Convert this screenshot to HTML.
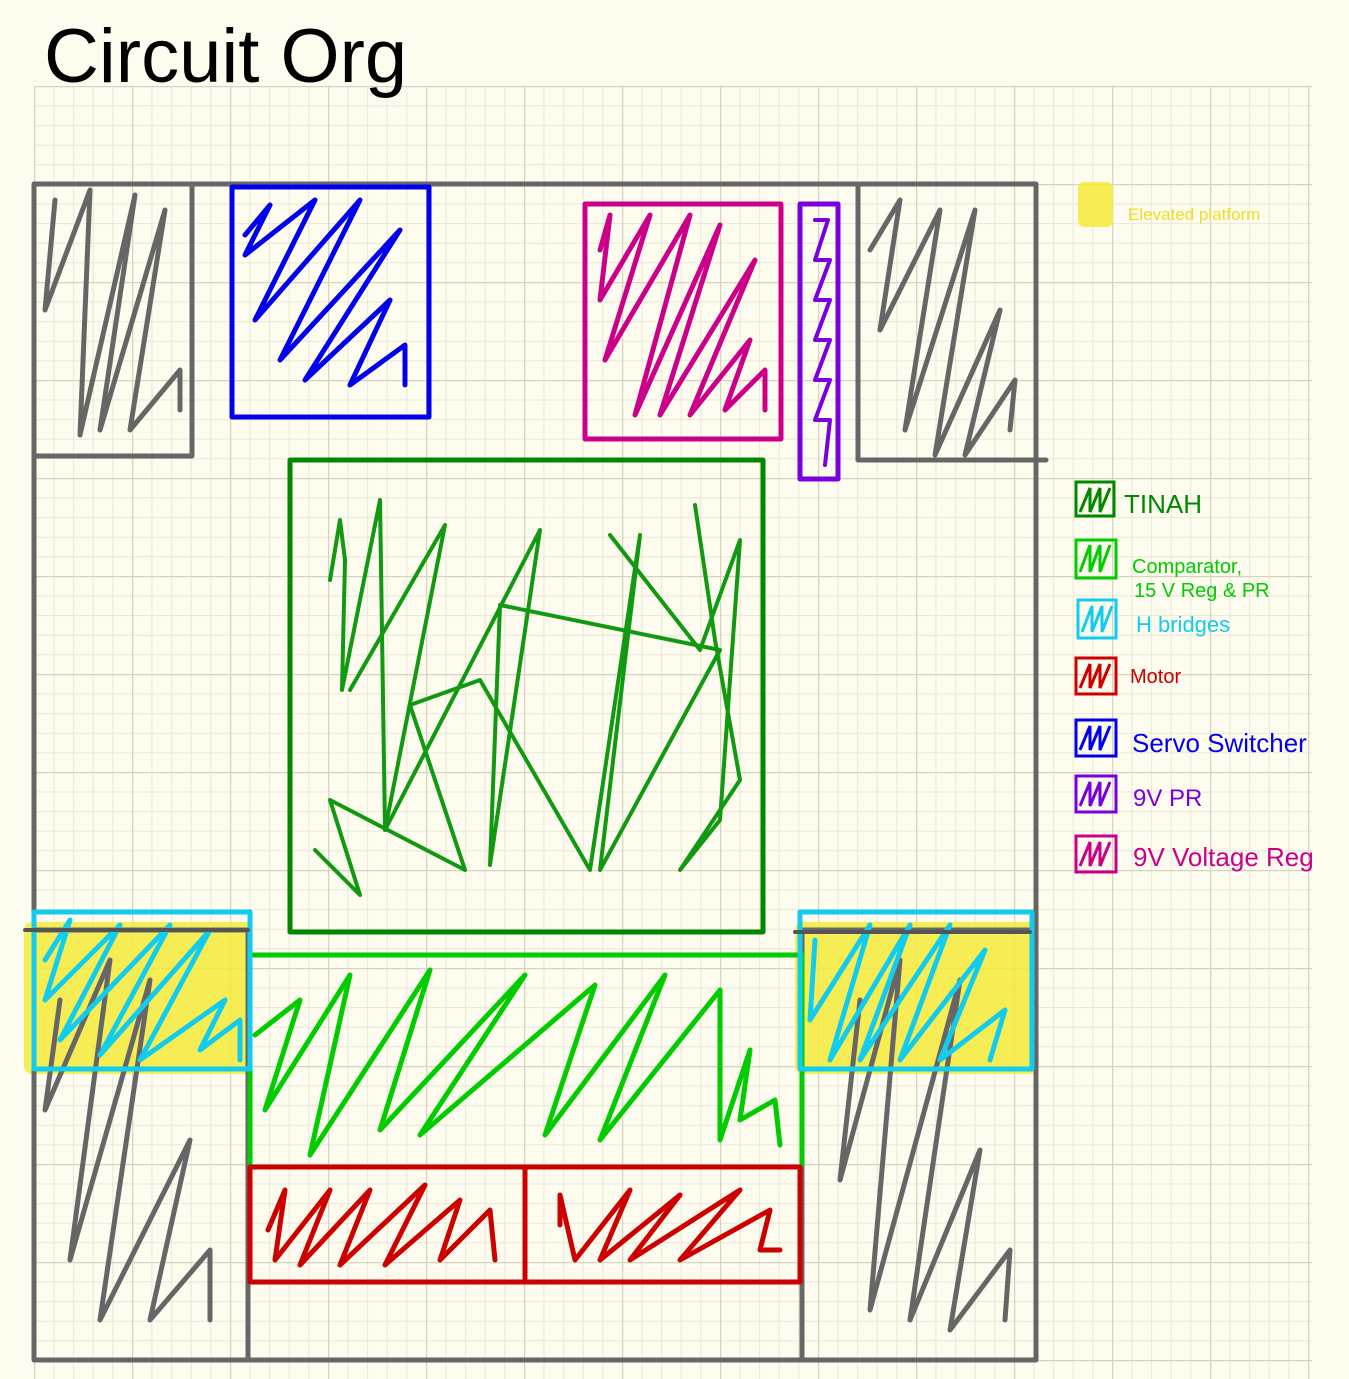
<!DOCTYPE html>
<html><head><meta charset="utf-8"><style>
html,body{margin:0;padding:0;background:#fefcee;}
svg{display:block}
text{font-family:"Liberation Sans",sans-serif}
</style></head><body>
<svg width="1349" height="1379" viewBox="0 0 1349 1379" xmlns="http://www.w3.org/2000/svg">
<defs>
<pattern id="minor" x="34" y="86" width="19.6" height="19.6" patternUnits="userSpaceOnUse">
<path d="M0 0H19.6M0 0V19.6" stroke="#e2e0d0" stroke-width="1.5" fill="none"/>
</pattern>
<pattern id="major" x="34" y="86" width="98" height="98" patternUnits="userSpaceOnUse">
<path d="M0 0H98M0 0V98" stroke="#d6d3c0" stroke-width="2.5" fill="none"/>
</pattern>
</defs>
<rect width="1349" height="1379" fill="#fefcee"/>
<rect x="34" y="86" width="1278" height="1293" fill="url(#minor)"/>
<rect x="34" y="86" width="1278" height="1293" fill="url(#major)"/>
<text x="44" y="82" font-size="76" fill="#000" style="font-family:'Liberation Sans Narrow','Liberation Sans',sans-serif">Circuit Org</text>

<!-- yellow platforms -->
<rect x="24" y="922" width="228" height="152" fill="#f4ea3a" opacity="0.85" rx="8"/>
<rect x="795" y="922" width="242" height="152" fill="#f4ea3a" opacity="0.85" rx="8"/>

<g fill="none" stroke-linecap="round" stroke-linejoin="round">
<!-- gray outlines -->
<g stroke="#666" stroke-width="5">
<path d="M34 184H1036V1360H34Z"/>
<path d="M34 456H192V184"/>
<path d="M858 184V460H1046"/>
<path d="M34 930H248V1360"/>
<path d="M802 1360V930H1030"/>
</g>
<!-- gray scribbles -->
<g stroke="#666" stroke-width="5">
<polyline points="55,200 45,310 90,190 80,435 135,195 100,430 165,210 130,430 180,370 180,410"/>
<polyline points="870,250 900,200 880,330 940,210 905,430 975,210 935,455 1000,310 965,455 1015,380 1010,430"/>
<polyline points="60,1000 45,1110 110,960 70,1260 150,980 100,1320 190,1140 150,1320 210,1250 210,1320"/>
<polyline points="860,1000 840,1180 900,960 870,1310 960,980 910,1320 980,1150 950,1330 1010,1250 1005,1320"/>
</g>
<!-- servo switcher -->
<rect x="232" y="187" width="197" height="230" stroke="#0000ee" stroke-width="5"/>
<polyline stroke="#0000ee" stroke-width="5" points="245,235 270,205 245,255 315,200 255,320 360,200 280,360 400,230 305,380 390,300 350,385 405,345 405,385"/>
<!-- 9V voltage reg -->
<rect x="585" y="204" width="196" height="235" stroke="#cc0088" stroke-width="5"/>
<polyline stroke="#cc0088" stroke-width="5" points="600,250 610,215 600,300 650,215 605,360 690,215 635,415 720,225 660,415 755,260 690,415 750,340 725,410 765,370 765,410"/>
<!-- 9V PR -->
<rect x="800" y="204" width="38" height="275" stroke="#7a00dd" stroke-width="5"/>
<polyline stroke="#7a00dd" stroke-width="4" points="815,220 828,220 815,260 830,260 815,300 830,300 815,340 830,340 815,380 830,380 815,420 830,420 825,465"/>
<!-- TINAH -->
<rect x="290" y="460" width="473" height="472" stroke="#008800" stroke-width="5"/>
<g stroke="#119911" stroke-width="4">
<polyline points="330,580 340,520 345,560 342,690 380,500 385,830 540,530 490,865 500,605 720,650 600,870 640,535 590,870 480,680 410,705 465,870 330,800 360,895 315,850"/>
<polyline points="385,830 445,525 350,690"/>
<polyline points="610,535 700,650 740,540 720,820 680,870 740,780 715,640 695,505"/>
</g>
<!-- comparator region -->
<path d="M250 955H802V1165M250 955V1165" stroke="#00cc00" stroke-width="5"/>
<polyline stroke="#00cc00" stroke-width="5" points="255,1035 300,1000 265,1110 350,975 310,1155 430,970 380,1130 525,975 420,1135 595,985 545,1135 665,975 600,1140 720,990 720,1140 750,1050 740,1120 775,1100 780,1145"/>
<!-- motor -->
<rect x="250" y="1167" width="275" height="115" stroke="#cc0000" stroke-width="5"/>
<rect x="525" y="1167" width="275" height="115" stroke="#cc0000" stroke-width="5"/>
<polyline stroke="#cc0000" stroke-width="5" points="268,1230 285,1190 275,1260 330,1190 300,1265 370,1190 340,1265 425,1185 385,1265 460,1200 440,1260 490,1210 495,1260"/>
<polyline stroke="#cc0000" stroke-width="5" points="560,1225 560,1195 575,1260 630,1190 600,1260 680,1195 630,1260 740,1190 680,1260 770,1210 760,1250 780,1250"/>
<!-- H bridges -->
<rect x="34" y="912" width="216" height="157" stroke="#11ccee" stroke-width="5"/>
<rect x="800" y="912" width="232" height="157" stroke="#11ccee" stroke-width="5"/>
<polyline stroke="#11ccee" stroke-width="5" points="45,960 70,920 45,1000 120,925 60,1040 170,925 100,1055 210,930 140,1060 225,1000 200,1050 240,1020 240,1060"/>
<polyline stroke="#11ccee" stroke-width="5" points="815,940 810,1020 870,925 830,1060 910,925 860,1060 950,925 900,1060 985,950 940,1060 1005,1010 990,1060"/>
<path d="M25 930H248M795 932H1030" stroke="#555" stroke-width="4"/>
</g>

<!-- legend -->
<g font-size="22">
<rect x="1078" y="182" width="35" height="45" fill="#f4ea3a" opacity="0.85" rx="6"/>
<text x="1128" y="220" fill="#eedd22" font-size="17">Elevated platform</text>
<g fill="none" stroke-width="3">
<rect x="1076" y="482" width="38" height="34" stroke="#008800"/>
<rect x="1076" y="540" width="40" height="38" stroke="#00cc00"/>
<rect x="1078" y="600" width="38" height="38" stroke="#11ccee"/>
<rect x="1076" y="658" width="40" height="36" stroke="#cc0000"/>
<rect x="1076" y="720" width="40" height="36" stroke="#0000ee"/>
<rect x="1076" y="776" width="40" height="36" stroke="#7a00dd"/>
<rect x="1076" y="836" width="40" height="36" stroke="#cc0088"/>
<polyline stroke="#008800" points="1080,512 1090,488 1090,512 1100,488 1100,512 1110,488"/>
<polyline stroke="#00cc00" points="1080,572 1090,545 1090,572 1100,545 1100,572 1110,545"/>
<polyline stroke="#11ccee" points="1082,632 1092,606 1092,632 1102,606 1102,632 1112,606"/>
<polyline stroke="#cc0000" points="1080,688 1090,664 1090,688 1100,664 1100,688 1110,664"/>
<polyline stroke="#0000ee" points="1080,750 1090,726 1090,750 1100,726 1100,750 1110,726"/>
<polyline stroke="#7a00dd" points="1080,806 1090,782 1090,806 1100,782 1100,806 1110,782"/>
<polyline stroke="#cc0088" points="1080,866 1090,842 1090,866 1100,842 1100,866 1110,842"/>
</g>
<text x="1124" y="513" fill="#008800" font-size="26">TINAH</text>
<text x="1132" y="573" fill="#00cc00" font-size="20">Comparator,</text>
<text x="1134" y="597" fill="#00cc00" font-size="20">15 V Reg &amp; PR</text>
<text x="1136" y="632" fill="#11ccee" font-size="22">H bridges</text>
<text x="1130" y="683" fill="#cc0000" font-size="20">Motor</text>
<text x="1132" y="752" fill="#0000ee" font-size="26">Servo Switcher</text>
<text x="1133" y="806" fill="#7a00dd" font-size="24">9V PR</text>
<text x="1133" y="866" fill="#cc0088" font-size="26">9V Voltage Reg</text>
</g>
</svg>
</body></html>
